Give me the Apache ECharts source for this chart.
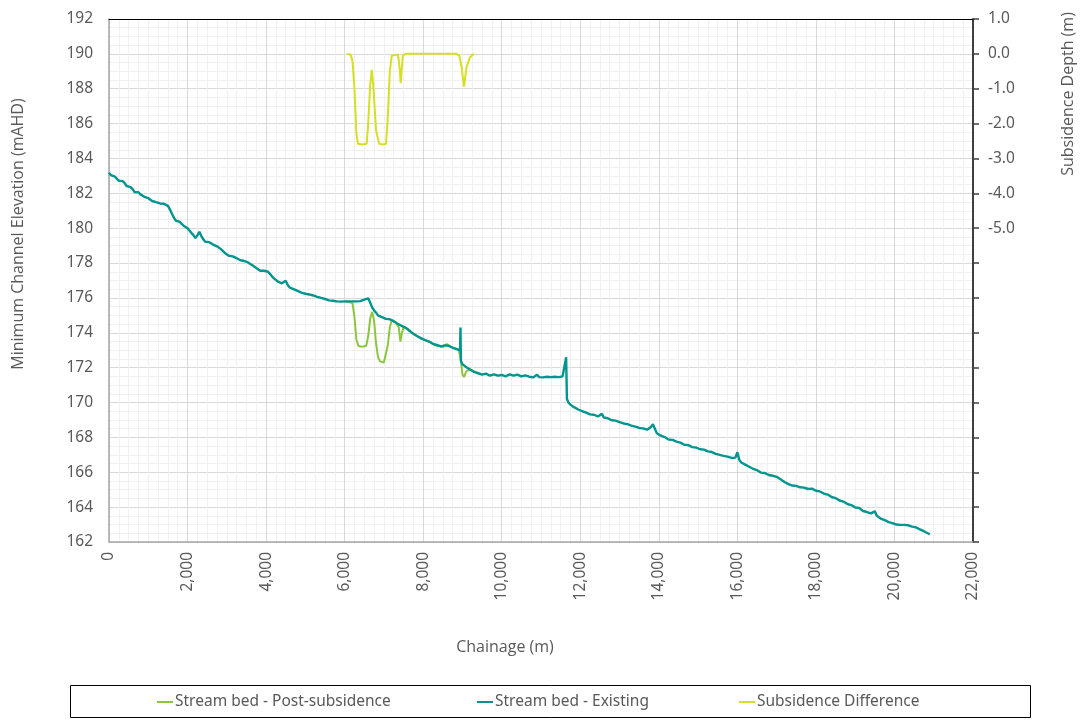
<!DOCTYPE html>
<html>
<head>
<meta charset="utf-8">
<title>Stream bed longitudinal profile</title>
<script src="https://cdn.jsdelivr.net/npm/echarts@6/dist/echarts.min.js"></script>
<style>
  html, body { margin: 0; padding: 0; background: #ffffff; overflow: hidden; }
  #chart { width: 1081px; height: 720px; }
</style>
</head>
<body>
<div id="chart"></div>
<script>
// Chainage (m) vs minimum channel elevation (mAHD), existing stream bed
const existingBed = [
  [0,183.18],[50,183.04],[100,182.98],[150,182.96],[200,182.9],[250,182.72],[300,182.66],[350,182.7],
  [400,182.58],[450,182.42],[500,182.32],[550,182.36],[600,182.24],[650,182.08],[700,182.04],[750,182.06],
  [800,181.94],[850,181.92],[900,181.8],[950,181.84],[1000,181.72],[1050,181.62],[1100,181.56],[1150,181.6],
  [1200,181.5],[1250,181.46],[1300,181.42],[1350,181.46],[1400,181.4],[1450,181.38],[1500,181.28],[1550,181.08],
  [1600,180.84],[1650,180.62],[1700,180.44],[1750,180.46],[1800,180.36],[1850,180.28],[1900,180.14],[1950,180.1],
  [2000,180.0],[2050,179.9],[2100,179.72],[2150,179.6],[2200,179.44],[2250,179.58],[2300,179.8],[2350,179.56],
  [2400,179.36],[2450,179.22],[2500,179.12],[2550,179.2],[2600,179.12],[2650,179.06],[2700,178.98],[2750,178.96],
  [2800,178.9],[2850,178.8],[2900,178.7],[2950,178.58],[3000,178.5],[3050,178.42],[3100,178.36],[3150,178.38],
  [3200,178.3],[3250,178.28],[3300,178.24],[3350,178.16],[3400,178.1],[3450,178.12],[3500,178.06],[3550,178.02],
  [3600,177.94],[3650,177.88],[3700,177.8],[3750,177.72],[3800,177.66],[3850,177.56],[3900,177.6],[3950,177.56],
  [4000,177.62],[4050,177.5],[4100,177.38],[4150,177.24],[4200,177.12],[4250,177.02],[4300,176.94],[4350,176.86],
  [4400,176.84],[4450,176.92],[4500,176.98],[4550,176.74],[4600,176.6],[4650,176.56],[4700,176.5],[4750,176.46],
  [4800,176.4],[4850,176.36],[4900,176.3],[4950,176.3],[5000,176.24],[5050,176.2],[5100,176.2],[5150,176.16],
  [5200,176.14],[5250,176.08],[5300,176.06],[5350,176.02],[5400,176.0],[5450,175.98],[5500,175.94],[5550,175.9],
  [5600,175.86],[5650,175.84],[5700,175.84],[5750,175.82],[5800,175.8],[5850,175.8],[5900,175.79],[5950,175.82],
  [6000,175.8],[6050,175.78],[6100,175.8],[6150,175.76],[6200,175.8],[6250,175.77],[6300,175.8],[6350,175.78],
  [6400,175.82],[6450,175.84],[6500,175.9],[6550,175.92],[6600,175.98],[6650,175.74],[6700,175.46],[6750,175.28],
  [6800,175.16],[6850,175.0],[6900,174.96],[6950,174.9],[7000,174.88],[7050,174.8],[7100,174.74],[7150,174.78],
  [7200,174.82],[7250,174.66],[7300,174.58],[7350,174.52],[7400,174.44],[7450,174.4],[7500,174.34],[7550,174.3],
  [7600,174.24],[7650,174.12],[7700,174.04],[7750,173.94],[7800,173.86],[7850,173.8],[7900,173.74],[7950,173.68],
  [8000,173.62],[8050,173.58],[8100,173.54],[8150,173.5],[8200,173.46],[8250,173.36],[8300,173.28],[8350,173.3],
  [8400,173.24],[8450,173.22],[8500,173.18],[8550,173.28],[8600,173.36],[8650,173.26],[8700,173.2],[8750,173.14],
  [8800,173.12],[8850,173.06],[8900,173.04],[8940,173.0],[8950,174.3],[8960,172.4],[9000,172.2],[9050,172.1],
  [9100,172.02],[9150,171.94],[9200,171.88],[9250,171.8],[9300,171.76],[9350,171.72],[9400,171.68],[9450,171.64],
  [9500,171.6],[9550,171.62],[9600,171.66],[9650,171.58],[9700,171.54],[9750,171.6],[9800,171.62],[9850,171.56],
  [9900,171.54],[9950,171.6],[10000,171.58],[10050,171.52],[10100,171.5],[10150,171.58],[10200,171.62],[10250,171.56],
  [10300,171.54],[10350,171.58],[10400,171.6],[10450,171.54],[10500,171.5],[10550,171.54],[10600,171.56],[10650,171.5],
  [10700,171.48],[10750,171.46],[10800,171.44],[10850,171.52],[10900,171.6],[10950,171.46],[11000,171.4],[11050,171.44],
  [11100,171.46],[11150,171.48],[11200,171.5],[11250,171.46],[11300,171.44],[11350,171.48],[11400,171.5],[11450,171.46],
  [11500,171.47],[11550,171.5],[11600,171.5],[11640,172.6],[11660,170.2],[11700,170.0],[11750,169.88],[11800,169.8],
  [11850,169.72],[11900,169.64],[11950,169.6],[12000,169.56],[12050,169.5],[12100,169.44],[12150,169.42],[12200,169.4],
  [12250,169.32],[12300,169.28],[12350,169.3],[12400,169.26],[12450,169.2],[12500,169.18],[12550,169.36],[12600,169.14],
  [12650,169.12],[12700,169.1],[12750,169.02],[12800,168.98],[12850,169.0],[12900,168.96],[12950,168.9],[13000,168.88],
  [13050,168.84],[13100,168.8],[13150,168.8],[13200,168.76],[13250,168.7],[13300,168.68],[13350,168.66],[13400,168.62],
  [13450,168.56],[13500,168.54],[13550,168.56],[13600,168.52],[13650,168.46],[13700,168.44],[13750,168.52],[13800,168.6],
  [13850,168.76],[13900,168.5],[13950,168.24],[14000,168.16],[14050,168.1],[14100,168.04],[14150,168.02],[14200,167.96],
  [14250,167.88],[14300,167.84],[14350,167.86],[14400,167.82],[14450,167.76],[14500,167.74],[14550,167.7],[14600,167.66],
  [14650,167.58],[14700,167.54],[14750,167.56],[14800,167.52],[14850,167.44],[14900,167.4],[14950,167.42],[15000,167.38],
  [15050,167.32],[15100,167.3],[15150,167.3],[15200,167.26],[15250,167.2],[15300,167.18],[15350,167.16],[15400,167.12],
  [15450,167.06],[15500,167.04],[15550,167.0],[15600,166.96],[15650,166.94],[15700,166.9],[15750,166.9],[15800,166.86],
  [15850,166.82],[15900,166.8],[15950,166.84],[16000,167.15],[16050,166.7],[16100,166.56],[16150,166.5],[16200,166.44],
  [16250,166.36],[16300,166.32],[16350,166.26],[16400,166.2],[16450,166.16],[16500,166.12],[16550,166.04],[16600,165.98],
  [16650,165.98],[16700,165.96],[16750,165.88],[16800,165.84],[16850,165.82],[16900,165.8],[16950,165.78],[17000,165.74],
  [17050,165.66],[17100,165.6],[17150,165.52],[17200,165.44],[17250,165.38],[17300,165.32],[17350,165.28],[17400,165.24],
  [17450,165.24],[17500,165.22],[17550,165.16],[17600,165.14],[17650,165.14],[17700,165.12],[17750,165.06],[17800,165.04],
  [17850,165.08],[17900,165.06],[17950,165.0],[18000,164.94],[18050,164.94],[18100,164.9],[18150,164.84],[18200,164.78],
  [18250,164.76],[18300,164.72],[18350,164.64],[18400,164.58],[18450,164.56],[18500,164.52],[18550,164.44],[18600,164.38],
  [18650,164.36],[18700,164.32],[18750,164.24],[18800,164.18],[18850,164.16],[18900,164.12],[18950,164.04],[19000,163.98],
  [19050,163.98],[19100,163.96],[19150,163.86],[19200,163.78],[19250,163.76],[19300,163.72],[19350,163.66],[19400,163.64],
  [19450,163.68],[19500,163.76],[19550,163.5],[19600,163.4],[19650,163.34],[19700,163.28],[19750,163.26],[19800,163.22],
  [19850,163.14],[19900,163.08],[19950,163.08],[20000,163.06],[20050,163.0],[20100,162.98],[20150,162.98],[20200,162.96],
  [20250,162.98],[20300,163.0],[20350,162.96],[20400,162.94],[20450,162.88],[20500,162.84],[20550,162.84],[20600,162.8],
  [20650,162.72],[20700,162.68],[20750,162.62],[20800,162.56],[20850,162.5],[20900,162.44]
];

// Post-subsidence stream bed through the mined reach (elsewhere it follows the existing bed)
const postSubsidenceBed = [
  [6000,175.8],[6100,175.77],[6200,175.7],[6250,174.9],[6300,173.6],[6350,173.24],[6450,173.2],[6550,173.26],
  [6600,173.8],[6650,174.8],[6700,175.2],[6750,174.7],[6800,173.4],[6850,172.6],[6900,172.36],[7000,172.3],
  [7050,172.4],[7100,173.3],[7150,174.3],[7200,174.74],[7300,174.58],[7380,174.3],[7420,173.5],[7460,174.0],
  [7500,174.3],[7600,174.24],[7700,174.04],[7800,173.86],[7900,173.74],[8000,173.62],[8100,173.54],[8200,173.46],
  [8300,173.28],[8400,173.24],[8500,173.18],[8600,173.36],[8700,173.2],[8800,173.12],[8900,173.04],[8950,172.6],
  [9000,171.6],[9040,171.46],[9100,171.8],[9200,171.9],[9300,171.76],[9400,171.68]
];

// Subsidence difference (m), plotted on the right-hand axis
const subsidenceDiff = [
  [6060,0.0],[6150,-0.02],[6200,-0.2],[6250,-1.0],[6300,-2.3],[6340,-2.58],[6450,-2.6],[6560,-2.58],
  [6600,-2.0],[6650,-0.9],[6690,-0.46],[6730,-0.9],[6800,-2.2],[6880,-2.58],[6970,-2.6],[7054,-2.58],
  [7100,-1.8],[7150,-0.5],[7200,-0.05],[7250,0.0],[7360,-0.02],[7400,-0.4],[7428,-0.84],[7450,-0.5],
  [7480,-0.05],[7550,0.0],[8850,0.0],[8920,-0.05],[8980,-0.4],[9040,-0.94],[9100,-0.4],[9190,-0.1],[9295,0.0]
];

const seriesNames = ['Stream bed - Post-subsidence', 'Stream bed - Existing', 'Subsidence Difference'];
const seriesColors = ['#8cc63f', '#00968f', '#d7df23'];
const axisTitles = {
  left: 'Minimum Channel Elevation (mAHD)',
  right: 'Subsidence Depth (m)',
  bottom: 'Chainage (m)'
};

const labelFont = 'Noto Sans';
const titleFont = 'Open Sans';
const textGrey = '#595959';

const chart = echarts.init(document.getElementById('chart'), null, { renderer: 'canvas' });

// one legend block per series so each entry sits at its own spot in the frame
const legendSpec = [
  { name: seriesNames[0], left: 157 },
  { name: seriesNames[1], left: 477 },
  { name: seriesNames[2], left: 739 }
].map(l => ({
  data: [l.name],
  left: l.left,
  top: 694,
  padding: 0,
  icon: 'rect',
  itemWidth: 16,
  itemHeight: 2,
  selectedMode: false,
  textStyle: { fontFamily: labelFont, fontSize: 15.5, color: textGrey, padding: [0, 0, 0, -3] }
}));

chart.setOption({
  animation: false,
  backgroundColor: '#ffffff',
  grid: { left: 109, right: 108, top: 19, bottom: 178, containLabel: false },
  legend: legendSpec,
  xAxis: [
    {
      type: 'value',
      min: 0, max: 22000, interval: 2000,
      axisLine: { show: true, onZero: false, lineStyle: { color: '#a6a6a6', width: 1.5 } },
      axisTick: { show: false },
      axisLabel: {
        rotate: 90, margin: 10,
        fontFamily: labelFont, fontSize: 15.5, color: textGrey,
        formatter: v => v.toLocaleString('en-US')
      },
      splitLine: { show: true, lineStyle: { color: '#d9d9d9', width: 1 } },
      minorTick: { show: false, splitNumber: 8 },
      minorSplitLine: { show: true, lineStyle: { color: '#f0f0f0', width: 1 } }
    },
    {
      type: 'value', position: 'top',
      min: 0, max: 22000, interval: 2000,
      axisLine: { show: true, onZero: false, lineStyle: { color: '#000000', width: 1 } },
      axisTick: { show: false }, axisLabel: { show: false }, splitLine: { show: false }
    }
  ],
  yAxis: [
    {
      type: 'value', position: 'left',
      min: 162, max: 192, interval: 2,
      axisLine: { show: true, onZero: false, lineStyle: { color: '#a6a6a6', width: 1.5 } },
      axisTick: { show: false },
      axisLabel: { margin: 16, fontFamily: labelFont, fontSize: 15.5, color: textGrey },
      splitLine: { show: true, lineStyle: { color: '#d9d9d9', width: 1 } },
      minorTick: { show: false, splitNumber: 4 },
      minorSplitLine: { show: true, lineStyle: { color: '#f0f0f0', width: 1 } }
    },
    {
      type: 'value', position: 'right',
      min: -14, max: 1, interval: 1,
      axisLine: { show: true, onZero: false, lineStyle: { color: '#404040', width: 2 } },
      axisTick: { show: true, inside: false, length: 6, lineStyle: { color: '#404040', width: 1.5 } },
      axisLabel: {
        margin: 15, fontFamily: labelFont, fontSize: 15.5, color: textGrey,
        formatter: v => (v >= -5 ? v.toFixed(1) : '')
      },
      splitLine: { show: false }
    }
  ],
  series: [
    {
      name: seriesNames[0], type: 'line', xAxisIndex: 0, yAxisIndex: 0,
      data: postSubsidenceBed, symbol: 'none', smooth: false,
      lineStyle: { color: seriesColors[0], width: 2 }, itemStyle: { color: seriesColors[0] }, z: 2
    },
    {
      name: seriesNames[1], type: 'line', xAxisIndex: 0, yAxisIndex: 0,
      data: existingBed, symbol: 'none', smooth: false,
      lineStyle: { color: seriesColors[1], width: 2.4 }, itemStyle: { color: seriesColors[1] }, z: 3
    },
    {
      name: seriesNames[2], type: 'line', xAxisIndex: 0, yAxisIndex: 1,
      data: subsidenceDiff, symbol: 'none', smooth: false,
      lineStyle: { color: seriesColors[2], width: 2 }, itemStyle: { color: seriesColors[2] }, z: 4
    }
  ],
  graphic: [
    {
      // legend frame
      type: 'rect', silent: true, z: 10,
      shape: { x: 70.5, y: 685.5, width: 960, height: 32 },
      style: { fill: 'none', stroke: '#000000', lineWidth: 1 }
    },
    {
      type: 'text', x: 18, y: 234, rotation: Math.PI / 2,
      style: { text: axisTitles.left, fontFamily: titleFont, fontSize: 16, fill: textGrey, align: 'center', verticalAlign: 'middle' }
    },
    {
      type: 'text', x: 1068, y: 94, rotation: Math.PI / 2,
      style: { text: axisTitles.right, fontFamily: titleFont, fontSize: 16, fill: textGrey, align: 'center', verticalAlign: 'middle' }
    },
    {
      type: 'text', x: 505, y: 647,
      style: { text: axisTitles.bottom, fontFamily: titleFont, fontSize: 16, fill: textGrey, align: 'center', verticalAlign: 'middle' }
    }
  ]
});
</script>
</body>
</html>
